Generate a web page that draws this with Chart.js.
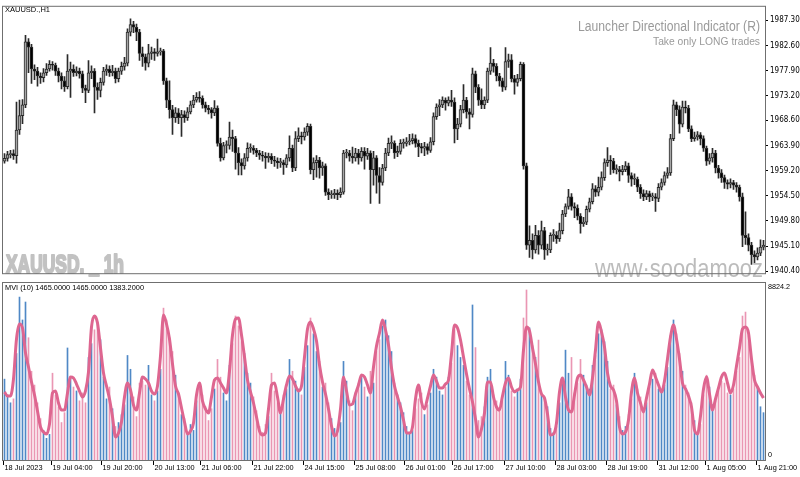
<!DOCTYPE html>
<html>
<head>
<meta charset="utf-8">
<script src="https://cdn.jsdelivr.net/npm/chart.js@4.4.0/dist/chart.umd.min.js"></script>
<style>
  body { margin: 0; background: #fff; }
  #wrap { position: relative; width: 800px; height: 477px; overflow: hidden; background: #fff; }
  canvas { position: absolute; left: 0; }
  #priceChart { top: 0; }
  #mviChart { top: 280px; }
</style>
</head>
<body>
<div id="wrap">
  <canvas id="priceChart" width="800" height="280"></canvas>
  <canvas id="mviChart" width="800" height="197"></canvas>
</div>
<script>
// XAUUSD H1 candles (open = previous close)
const firstOpen = 1961.0;
const closes = [
  1961.5,1962.2,1962.4,1962.0,1966.8,1969.5,1971.5,1983.3,1982.3,1978.2,
  1977.8,1976.9,1976.6,1977.5,1978.2,1979.1,1978.9,1977.8,1976.9,1976.0,
  1974.9,1977.8,1978.2,1977.5,1977.8,1977.3,1974.6,1974.2,1977.5,1977.8,
  1974.8,1974.2,1975.7,1977.8,1978.2,1977.5,1977.8,1976.4,1977.8,1978.7,
  1979.3,1985.1,1986.5,1986.0,1985.1,1981.1,1980.5,1979.3,1981.1,1981.4,
  1981.1,1981.4,1981.6,1976.0,1972.4,1970.6,1969.1,1970.0,1969.1,1969.7,
  1969.1,1970.2,1971.5,1972.4,1972.9,1972.7,1971.5,1970.9,1970.6,1970.0,
  1970.9,1964.3,1961.6,1963.9,1963.9,1965.5,1965.2,1962.5,1960.7,1960.1,
  1961.6,1963.4,1963.4,1963.0,1962.5,1962.1,1961.9,1961.6,1961.9,1961.2,
  1961.0,1960.7,1960.7,1960.3,1961.6,1963.4,1959.7,1965.2,1965.7,1965.5,
  1966.4,1967.5,1959.4,1960.7,1961.2,1959.7,1960.1,1955.2,1954.7,1954.7,
  1955.0,1954.7,1955.2,1962.5,1962.5,1961.9,1961.6,1962.5,1961.6,1962.8,
  1961.9,1962.5,1959.4,1961.6,1958.3,1957.0,1959.7,1962.5,1964.3,1964.3,
  1962.5,1962.8,1964.3,1964.3,1964.6,1964.8,1965.2,1964.3,1963.7,1963.4,
  1963.7,1963.0,1964.6,1969.3,1971.1,1971.5,1972.4,1971.8,1972.4,1972.0,
  1967.0,1967.9,1970.6,1972.4,1970.2,1969.7,1977.3,1974.8,1972.4,1971.5,
  1972.4,1977.8,1979.3,1978.7,1976.9,1976.0,1974.8,1979.6,1979.9,1976.4,
  1975.7,1976.4,1979.1,1960.1,1945.3,1946.2,1944.4,1947.1,1945.3,1948.0,
  1944.4,1944.4,1947.1,1947.1,1946.5,1948.0,1951.1,1952.5,1954.3,1952.5,
  1952.2,1950.7,1949.3,1949.6,1952.0,1953.4,1955.8,1955.2,1956.1,1957.9,
  1960.7,1961.2,1961.0,1959.4,1959.4,1959.0,1959.4,1960.1,1958.3,1957.6,
  1957.6,1956.1,1954.9,1954.3,1954.9,1954.3,1954.3,1954.0,1956.1,1957.0,
  1958.3,1958.8,1965.2,1971.5,1970.6,1967.9,1971.1,1970.9,1967.0,1965.2,
  1965.5,1965.9,1965.2,1963.4,1961.0,1961.6,1962.5,1959.7,1958.8,1957.9,
  1957.0,1956.7,1957.0,1956.5,1956.1,1954.3,1947.1,1946.7,1945.3,1943.5,
  1943.1,1943.8,1944.9,1945.3
];
const highs = [
  1962.4,1962.8,1963.0,1963.1,1972.0,1972.4,1972.5,1984.5,1983.9,1982.8,
  1979.0,1978.5,1977.5,1978.3,1979.2,1979.8,1979.6,1979.3,1978.4,1977.5,
  1976.8,1980.9,1979.5,1979.0,1978.6,1978.4,1977.8,1975.2,1979.8,1978.8,
  1978.3,1975.6,1976.5,1978.5,1979.0,1978.8,1978.9,1978.4,1978.4,1979.5,
  1980.4,1985.7,1987.6,1987.1,1986.6,1985.6,1982.3,1981.0,1982.8,1982.3,
  1982.0,1983.8,1982.1,1981.9,1976.5,1976.0,1971.4,1971.0,1970.8,1970.5,
  1970.4,1971.0,1972.2,1973.3,1973.8,1974.0,1973.2,1972.0,1971.4,1971.0,
  1972.3,1971.3,1965.3,1964.5,1964.8,1968.3,1966.8,1965.6,1963.5,1961.4,
  1962.4,1964.4,1964.2,1963.9,1963.4,1963.0,1962.8,1962.6,1962.5,1962.4,
  1961.9,1961.6,1961.5,1961.2,1962.2,1965.7,1964.0,1966.5,1967.2,1966.4,
  1967.2,1968.0,1967.9,1961.6,1962.0,1961.7,1960.8,1960.5,1955.8,1955.5,
  1955.7,1955.6,1956.0,1963.0,1963.2,1963.0,1963.6,1963.4,1963.2,1963.5,
  1963.5,1963.4,1962.9,1962.8,1962.0,1959.8,1960.4,1963.4,1965.3,1965.7,
  1964.8,1963.8,1965.0,1965.1,1965.4,1966.0,1966.1,1965.9,1964.9,1964.3,
  1964.5,1964.2,1965.4,1970.0,1971.7,1972.5,1973.0,1972.8,1973.0,1974.2,
  1972.8,1969.0,1971.4,1975.3,1972.9,1970.8,1978.4,1977.8,1975.3,1974.5,
  1973.0,1978.4,1982.2,1980.0,1979.2,1977.4,1976.5,1982.2,1981.0,1980.9,
  1977.0,1977.2,1979.5,1979.4,1960.6,1948.9,1947.4,1949.0,1948.0,1949.8,
  1948.6,1945.5,1947.6,1948.2,1947.8,1949.4,1951.8,1953.0,1955.7,1954.9,
  1953.2,1952.8,1951.2,1950.5,1952.6,1954.1,1956.8,1956.4,1958.0,1959.0,
  1961.4,1963.5,1962.0,1961.5,1960.3,1960.0,1960.2,1960.9,1960.6,1958.8,
  1958.6,1958.0,1956.6,1955.6,1955.5,1955.4,1955.0,1954.9,1956.8,1957.7,
  1959.0,1959.8,1966.0,1972.4,1972.0,1971.3,1972.2,1972.2,1971.4,1967.6,
  1966.4,1966.5,1966.3,1965.7,1963.8,1962.4,1963.4,1963.0,1960.2,1959.4,
  1958.4,1957.5,1957.7,1957.4,1957.0,1956.5,1955.0,1951.5,1947.4,1945.8,
  1944.2,1944.8,1946.3,1946.2
];
const lows = [
  1960.6,1961.0,1961.6,1961.3,1960.6,1966.0,1968.0,1971.0,1977.5,1975.5,
  1976.2,1975.0,1975.5,1975.8,1977.0,1977.8,1978.0,1977.0,1975.8,1974.5,
  1974.0,1974.5,1972.9,1976.8,1976.9,1976.5,1973.8,1971.9,1973.8,1976.4,
  1970.0,1972.5,1973.0,1975.2,1977.0,1976.8,1976.9,1975.6,1975.8,1977.2,
  1978.0,1978.8,1984.4,1985.0,1983.5,1979.8,1978.7,1978.0,1978.6,1980.0,
  1979.8,1980.6,1980.8,1975.3,1971.0,1969.0,1966.0,1968.2,1968.0,1965.6,
  1968.2,1968.6,1969.8,1971.0,1972.0,1972.0,1970.9,1970.2,1969.8,1969.0,
  1969.5,1963.8,1961.0,1961.2,1962.5,1963.2,1962.8,1959.5,1958.4,1958.4,
  1959.5,1961.0,1962.6,1962.3,1961.8,1961.3,1961.0,1959.6,1960.8,1960.5,
  1960.0,1959.6,1959.8,1958.5,1959.8,1961.0,1959.0,1959.2,1964.6,1964.2,
  1964.9,1965.8,1958.6,1957.5,1958.0,1957.8,1958.3,1954.6,1953.8,1954.0,
  1954.0,1953.8,1954.2,1954.8,1961.6,1961.0,1960.6,1961.0,1960.4,1961.0,
  1959.5,1961.3,1953.1,1956.5,1955.0,1953.1,1956.5,1959.2,1962.0,1963.3,
  1961.5,1961.8,1962.3,1963.4,1963.8,1964.0,1964.2,1963.6,1961.8,1962.5,
  1962.0,1962.3,1962.6,1964.0,1968.8,1969.5,1971.0,1970.5,1971.3,1971.2,
  1964.4,1965.0,1967.4,1970.0,1969.0,1967.0,1969.2,1973.8,1971.4,1970.8,
  1970.8,1971.9,1977.2,1977.6,1976.0,1975.0,1974.0,1974.3,1978.5,1975.8,
  1973.5,1975.0,1976.0,1959.5,1944.5,1943.0,1942.7,1943.8,1943.6,1944.6,
  1942.6,1943.4,1943.9,1946.0,1945.6,1946.0,1947.4,1950.6,1952.0,1951.8,
  1950.4,1950.0,1947.5,1948.8,1949.1,1951.5,1953.0,1954.4,1954.5,1955.6,
  1957.4,1960.0,1958.5,1958.8,1958.6,1957.3,1958.4,1959.0,1957.0,1956.3,
  1956.6,1955.3,1954.0,1953.6,1953.8,1953.4,1953.6,1951.6,1953.4,1955.6,
  1956.5,1957.8,1958.3,1964.8,1969.5,1966.2,1967.4,1970.0,1966.5,1964.6,
  1964.7,1964.9,1964.0,1962.8,1960.2,1960.4,1960.8,1958.8,1957.8,1957.0,
  1955.9,1955.8,1956.0,1955.7,1955.2,1953.5,1945.0,1945.4,1944.2,1941.7,
  1942.0,1942.5,1943.3,1944.4
];

// MVI (10) histogram and its signal line
const volumes = [
  4100,3300,2900,3100,5400,8260,7100,8010,6200,4500,
  3800,2900,2100,1500,1100,1300,4400,3300,2700,1900,
  2400,5680,4100,3700,3500,3000,3400,2900,5200,5900,
  6600,7000,6100,4200,3100,3700,2600,1700,1900,2300,
  2800,5300,4600,3200,2200,3900,4000,3800,4800,3300,
  3000,3500,4600,7700,7100,6200,5500,4300,3400,2300,
  2100,1400,1800,1500,3000,3600,3300,2700,2000,2600,
  3600,5100,4200,3400,3000,4800,5900,7300,6800,6000,
  5400,4400,3900,3200,2500,1700,1400,1800,2200,4400,
  3500,2900,2600,3300,3600,5100,4500,4000,3600,3300,
  4700,5800,7200,6400,5500,5000,3700,3900,2900,2100,
  1600,1300,1900,5000,4000,3000,2500,3400,3900,4300,
  3700,3200,4500,3900,5500,6100,6800,7100,6300,5500,
  3900,3300,2900,2400,1700,1400,1500,2600,3100,3400,
  2300,2800,3400,4600,4200,3500,3300,3700,4200,4900,
  6600,5800,5200,4800,4000,3300,7860,5700,2000,2200,
  2700,4200,4600,3300,3000,2600,3000,5000,4300,3500,
  3200,3600,4100,7200,8620,6700,5800,5200,6080,3300,
  3100,2700,1600,1400,1700,2900,4000,5570,4400,5200,
  3400,3900,5100,4300,3800,3600,4800,5300,6400,6600,
  6000,5000,3600,3800,2800,2200,1500,1700,2300,3100,
  4400,3600,3200,2500,2900,3700,4100,4400,3600,3500,
  3800,4700,6300,7100,6400,5400,4500,3800,3400,2900,
  2000,1400,1800,3300,4300,3700,2800,3000,3500,4000,
  3900,3400,3300,3600,4500,5200,7300,7500,6300,5000,
  4300,3700,2700,2400
];
const mviLine = [
  3448,3245,3245,4107,6135,6895,6692,5425,4715,3955,
  3296,2484,1673,1420,1318,1825,3397,3498,2890,2535,
  2535,3397,4208,4157,3853,3498,3194,3498,4462,6743,
  7301,6946,5678,4411,3752,3093,2180,1166,1369,1927,
  3194,3904,3549,2789,2535,3397,4208,4107,3904,3498,
  3346,3752,5273,7352,6895,6135,4867,3752,3346,2636,
  1927,1318,1470,1876,3296,3904,2991,2586,2383,3194,
  4056,4157,3904,3650,3397,4512,6338,7149,7199,6338,
  5222,4056,3448,2890,2180,1470,1268,1369,2586,3803,
  3904,3194,2383,3093,3803,4259,4107,3752,3498,3752,
  5222,6642,6997,6642,6033,4817,3955,3346,2586,1724,
  1217,1470,2586,4208,3498,2789,2839,3346,3803,4310,
  4208,3803,3397,4715,5780,6439,7098,6591,5831,4664,
  3752,3194,2687,2028,1369,1369,1673,3093,3803,2941,
  2586,3143,3752,4310,4005,3650,3650,3853,4056,5374,
  6845,6692,6084,5222,4360,3600,2941,2079,1166,1572,
  2383,3955,3955,3194,2687,2535,3245,3904,4157,3701,
  3448,3549,3701,5577,6743,6540,5678,4867,3955,3346,
  3143,2332,1268,1318,1876,3448,4157,3194,2535,2434,
  3296,4157,4310,4056,3701,3296,4157,5577,6997,6490,
  5729,4411,3752,3549,2991,1673,1318,1420,2028,3448,
  4157,3397,2890,2434,3143,3853,4563,4208,3803,3448,
  4005,5121,6236,6845,6135,5121,3904,3600,3245,2687,
  1521,1318,2231,3600,4208,3346,2535,3093,3650,4208,
  4411,3904,3397,3803,4766,5678,6642,6743,6439,5121,
  4056,3701,3397,3143
];

// axis labels
const priceTicks = [1940.40, 1945.10, 1949.80, 1954.50, 1959.20, 1963.90, 1968.60, 1973.20, 1977.90, 1982.60, 1987.30];
const mviTicks = [0, 8824.2];
const timeTickIndex = [0, 16, 33, 50, 66, 83, 100, 117, 134, 150, 167, 184, 201, 218, 234, 251];
const timeTickText = ['18 Jul 2023', '19 Jul 04:00', '19 Jul 20:00', '20 Jul 13:00', '21 Jul 06:00', '21 Jul 22:00',
  '24 Jul 15:00', '25 Jul 08:00', '26 Jul 01:00', '26 Jul 17:00', '27 Jul 10:00', '28 Jul 03:00',
  '28 Jul 19:00', '31 Jul 12:00', '1 Aug 05:00', '1 Aug 21:00'];

const bars = closes.map((c, i) => i);
const opens = closes.map((c, i) => i === 0 ? firstOpen : closes[i - 1]);
const isUp = closes.map((c, i) => c >= opens[i]);

const NARROW = "'Liberation Sans Narrow', 'DejaVu Sans Condensed', 'Liberation Sans', sans-serif";
const SANS = "'Liberation Sans', Arial, sans-serif";

// draw text squeezed to a given width (screenshot text is narrow)
function fitText(ctx, text, x, y, width, font, color, align, stroke) {
  ctx.save();
  ctx.font = font;
  ctx.fillStyle = color;
  ctx.textAlign = 'left';
  ctx.textBaseline = 'alphabetic';
  const w = ctx.measureText(text).width;
  const left = align === 'right' ? x - width : x;
  ctx.translate(left, y);
  ctx.scale(width / w, 1);
  ctx.fillText(text, 0, 0);
  if (stroke) {
    ctx.strokeStyle = color;
    ctx.lineWidth = stroke;
    ctx.lineJoin = 'round';
    ctx.strokeText(text, 0, 0);
  }
  ctx.restore();
}

// small axis text, squeezed by a fixed factor
function narrowText(ctx, text, x, y, k) {
  ctx.save();
  ctx.translate(x, y);
  ctx.scale(k, 1);
  ctx.fillText(text, 0, 0);
  ctx.restore();
}

const framePlugin = {
  id: 'frame',
  afterDraw(chart) {
    const { ctx, chartArea: a } = chart;
    ctx.save();
    ctx.strokeStyle = '#6f6f6f';
    ctx.lineWidth = 1;
    ctx.strokeRect(a.left - 0.5, a.top - 0.5, a.right - a.left + 1, a.bottom - a.top + 1);
    ctx.restore();
  }
};

const priceTextPlugin = {
  id: 'priceText',
  beforeDatasetsDraw(chart) {
    const ctx = chart.ctx;
    fitText(ctx, 'XAUUSD. _ 1h', 6, 273, 118, 'bold 26px ' + SANS, '#c2c2c2', 'left', 2.2);
    fitText(ctx, 'www\u00b7soodamooz', 595, 277, 168, '26px ' + SANS, '#bcbcbc');
  },
  afterDraw(chart) {
    const ctx = chart.ctx;
    fitText(ctx, 'XAUUSD.,H1', 5, 12, 45, '8px ' + SANS, '#000');
    fitText(ctx, 'Launcher Directional Indicator (R)', 760, 31, 182, '14px ' + SANS, '#9a9a9a', 'right');
    fitText(ctx, 'Take only LONG trades', 760, 45, 107, '11px ' + SANS, '#9a9a9a', 'right');
  }
};

const mviTextPlugin = {
  id: 'mviText',
  afterDraw(chart) {
    const { ctx, chartArea: a } = chart;
    const xs = chart.scales.x, ys = chart.scales.y;
    fitText(ctx, 'MVI (10) 1465.0000 1465.0000 1383.2000', 5, 10, 139, '8px ' + SANS, '#000');

    ctx.save();
    ctx.font = '8px ' + SANS;
    ctx.fillStyle = '#000';
    ctx.textBaseline = 'middle';
    ctx.textAlign = 'left';
    narrowText(ctx, mviTicks[1].toFixed(1), a.right + 3, ys.getPixelForValue(mviTicks[1]) + 1, 0.9);
    narrowText(ctx, String(mviTicks[0]), a.right + 3, ys.getPixelForValue(mviTicks[0]) - 5, 0.9);

    ctx.strokeStyle = '#000';
    ctx.lineWidth = 1;
    timeTickIndex.forEach((idx, k) => {
      const px = Math.round(xs.getPixelForValue(idx)) - 0.5;
      ctx.beginPath();
      ctx.moveTo(px - 1, a.bottom + 1);
      ctx.lineTo(px - 1, a.bottom + 5);
      ctx.stroke();
      narrowText(ctx, timeTickText[k], px, a.bottom + 8, 0.92);
    });
    ctx.restore();
  }
};

// Price chart
const priceCtx = document.getElementById('priceChart').getContext('2d');
new Chart(priceCtx, {
  type: 'bar',
  data: {
    labels: bars,
    datasets: [
      {
        data: closes.map((c, i) => [opens[i], c]),
        backgroundColor: isUp.map(u => u ? '#a6a6a6' : '#000000'),
        borderColor: '#2a2a2a',
        borderWidth: 1,
        borderSkipped: false,
        barThickness: 3,
        minBarLength: 1,
        grouped: false,
        order: 1
      },
      {
        data: highs.map((h, i) => [lows[i], h]),
        backgroundColor: '#2a2a2a',
        barThickness: 1,
        grouped: false,
        order: 2
      }
    ]
  },
  options: {
    responsive: false,
    animation: false,
    devicePixelRatio: 1,
    layout: { padding: { left: 3, top: 3, bottom: 1, right: 0 } },
    plugins: { legend: { display: false }, tooltip: { enabled: false } },
    scales: {
      x: { display: false, offset: true },
      y: {
        position: 'right',
        min: 1940.04,
        max: 1989.83,
        afterFit: s => { s.width = 35; },
        afterBuildTicks: s => { s.ticks = priceTicks.map(v => ({ value: v })); },
        ticks: {
          font: { family: NARROW, size: 8 },
          color: '#000',
          padding: 2,
          callback: v => Number(v).toFixed(2)
        },
        grid: { drawOnChartArea: false, tickLength: 3, color: '#000' },
        border: { display: false }
      }
    }
  },
  plugins: [priceTextPlugin, framePlugin]
});

// MVI chart
const mviCtx = document.getElementById('mviChart').getContext('2d');
new Chart(mviCtx, {
  type: 'bar',
  data: {
    labels: bars,
    datasets: [
      {
        type: 'line',
        data: mviLine,
        borderColor: '#de6690',
        borderWidth: 3,
        pointRadius: 0,
        cubicInterpolationMode: 'monotone',
        order: 1
      },
      {
        type: 'bar',
        data: volumes,
        backgroundColor: isUp.map(u => u ? '#4f88c6' : '#ea96b3'),
        barThickness: 1,
        order: 2
      }
    ]
  },
  options: {
    responsive: false,
    animation: false,
    devicePixelRatio: 1,
    layout: { padding: { left: 3, top: 3, bottom: 17, right: 35 } },
    plugins: { legend: { display: false }, tooltip: { enabled: false } },
    scales: {
      x: { display: false, offset: true },
      y: { display: false, min: 0, max: 8974 }
    }
  },
  plugins: [mviTextPlugin, framePlugin]
});
</script>
</body>
</html>
